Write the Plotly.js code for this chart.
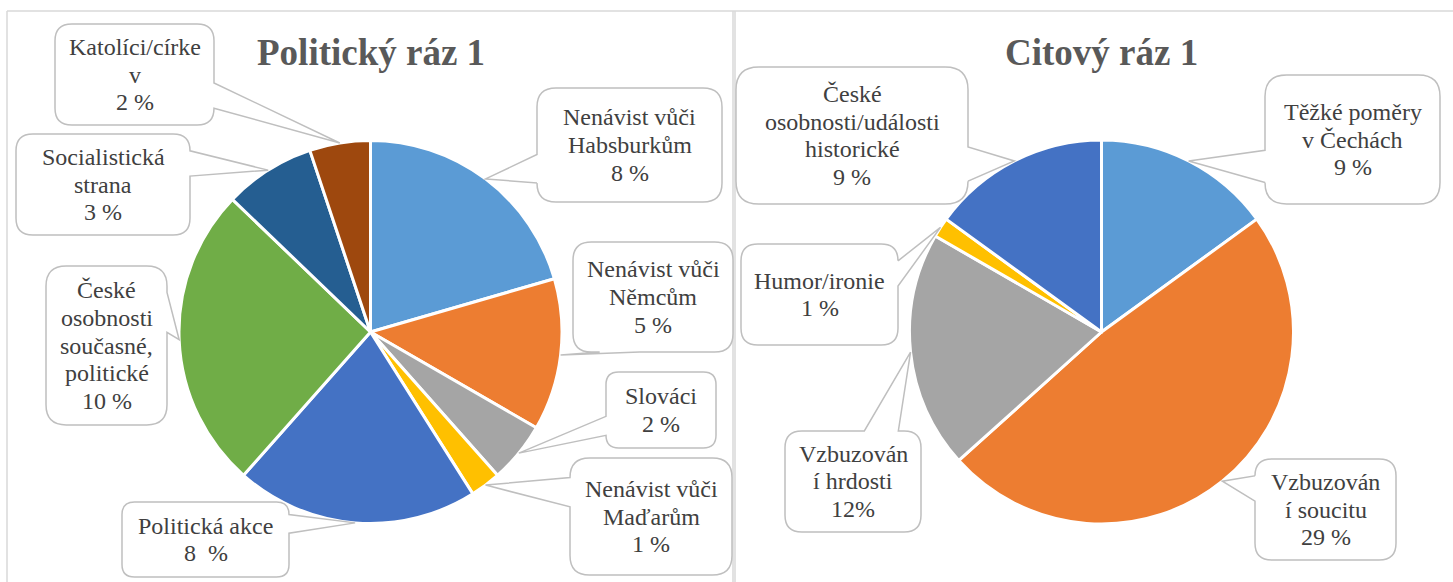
<!DOCTYPE html>
<html>
<head>
<meta charset="utf-8">
<script src="https://cdn.plot.ly/plotly-3.0.1.min.js"></script>
<style>html,body{margin:0;padding:0;background:#fff;}#chart{width:1453px;height:582px;}</style>
</head>
<body>
<div id="chart"></div>
<script>
// ---------------- DATA ----------------
const leftTitle = "Politický ráz 1";
const leftCategories = ["Nenávist vůči<br>Habsburkům", "Nenávist vůči<br>Němcům", "Slováci", "Nenávist vůči<br>Maďarům", "Politická akce", "České<br>osobnosti<br>současné,<br>politické", "Socialistická<br>strana", "Katolíci/círke<br>v"];
const leftValues = [8, 5, 2, 1, 8, 10, 3, 2];
const leftValueLabels = ["8 %", "5 %", "2 %", "1 %", "8  %", "10 %", "3 %", "2 %"];

const rightTitle = "Citový ráz 1";
const rightCategories = ["Těžké poměry<br>v Čechách", "Vzbuzován<br>í soucitu", "Vzbuzován<br>í hrdosti", "Humor/ironie", "České<br>osobnosti/události<br>historické"];
const rightValues = [9, 29, 12, 1, 9];
const rightValueLabels = ["9 %", "29 %", "12%", "1 %", "9 %"];

// ---------------- LAYOUT / STYLE ----------------
const W = 1453, H = 582;
const leftColors = ["#5B9BD5", "#ED7D31", "#A5A5A5", "#FFC000", "#4472C4", "#70AD47", "#255E91", "#9E480E"];
const rightColors = ["#5B9BD5", "#ED7D31", "#A5A5A5", "#FFC000", "#4472C4"];
const FONT = "Liberation Serif";
const LINE_H = 27.6;

const panels = [
  {title: leftTitle, cats: leftCategories, vals: leftValues, vlabels: leftValueLabels, colors: leftColors,
   cx: 370.5, cy: 332, r: 191.5, titleY: 52,
   boxes: [[537,88,722,202],[573,242,733,352],[606,372,716,448],[570,458,732,575],[122,502,289,577],[46,266,167,425],[16,134,190,235],[55,24,214,125]],
   sides: [null,'bottom',null,null,null,null,null,null]},
  {title: rightTitle, cats: rightCategories, vals: rightValues, vlabels: rightValueLabels, colors: rightColors,
   cx: 1101.5, cy: 332, r: 192, titleY: 52,
   boxes: [[1265,75,1440,204],[1255,459,1396,560],[785,431,921,532],[741,244,898,345],[736,67,968,204]],
   sides: [null,null,null,null,null]}
];

const px = x => x / W;
const py = y => 1 - y / H;

function calloutPath(b, tip, forced) {
  const [x0, y0, x1, y1] = b;
  const w = x1 - x0, h = y1 - y0;
  const bx = (x0 + x1) / 2, by = (y0 + y1) / 2;
  const dx = tip[0] - bx, dy = tip[1] - by;
  const dq = dx * h / w;
  let side;
  if (forced) side = forced;
  else if (Math.abs(dy) > Math.abs(dq)) side = dy < 0 ? 'top' : 'bottom';
  else side = dx < 0 ? 'left' : 'right';
  const rr = Math.min(w, h) * 0.16667;
  const bxa = x0 + w * (dx > 0 ? 7 : 2) / 12, bxb = x0 + w * (dx > 0 ? 10 : 5) / 12;
  const bya = y0 + h * (dy > 0 ? 7 : 2) / 12, byb = y0 + h * (dy > 0 ? 10 : 5) / 12;
  const P = (x, y) => px(x).toFixed(6) + ',' + py(y).toFixed(6);
  let d = 'M' + P(x0 + rr, y0);
  if (side === 'top') d += ' L' + P(bxa, y0) + ' L' + P(tip[0], tip[1]) + ' L' + P(bxb, y0);
  d += ' L' + P(x1 - rr, y0) + ' Q' + P(x1, y0) + ' ' + P(x1, y0 + rr);
  if (side === 'right') d += ' L' + P(x1, bya) + ' L' + P(tip[0], tip[1]) + ' L' + P(x1, byb);
  d += ' L' + P(x1, y1 - rr) + ' Q' + P(x1, y1) + ' ' + P(x1 - rr, y1);
  if (side === 'bottom') d += ' L' + P(bxb, y1) + ' L' + P(tip[0], tip[1]) + ' L' + P(bxa, y1);
  d += ' L' + P(x0 + rr, y1) + ' Q' + P(x0, y1) + ' ' + P(x0, y1 - rr);
  if (side === 'left') d += ' L' + P(x0, byb) + ' L' + P(tip[0], tip[1]) + ' L' + P(x0, bya);
  d += ' L' + P(x0, y0 + rr) + ' Q' + P(x0, y0) + ' ' + P(x0 + rr, y0) + ' Z';
  return d;
}

const traces = [], shapes = [], annotations = [];

// frame lines
const frameColor = "#d9d9d9";
[[7, 11, 1453, 11], [7, 11, 7, 582], [733, 11, 733, 582], [735, 11, 735, 582]].forEach(l => {
  shapes.push({type: 'line', xref: 'paper', yref: 'paper', x0: px(l[0]), y0: py(l[1]), x1: px(l[2]), y1: py(l[3]),
    line: {color: frameColor, width: 1.5}, layer: 'below'});
});

panels.forEach(p => {
  traces.push({
    type: 'pie', labels: p.cats, values: p.vals, sort: false, direction: 'clockwise', rotation: 0,
    textinfo: 'none', hoverinfo: 'label+value',
    marker: {colors: p.colors, line: {color: '#ffffff', width: 3}},
    domain: {x: [px(p.cx - p.r), px(p.cx + p.r)], y: [py(p.cy + p.r), py(p.cy - p.r)]},
    showlegend: false
  });
  annotations.push({xref: 'paper', yref: 'paper', x: px(p.cx), y: py(p.titleY), text: p.title,
    showarrow: false, xanchor: 'center', yanchor: 'middle', font: {family: FONT, size: 37, color: '#595959', weight: 'bold'}});
  const total = p.vals.reduce((a, b) => a + b, 0);
  let cum = 0;
  p.vals.forEach((v, i) => {
    const a = (cum + v / 2) / total * 2 * Math.PI;
    cum += v;
    const tip = [p.cx + p.r * Math.sin(a), p.cy - p.r * Math.cos(a)];
    const b = p.boxes[i];
    shapes.push({type: 'path', xref: 'paper', yref: 'paper', path: calloutPath(b, tip, p.sides[i]),
      fillcolor: '#ffffff', line: {color: '#bfbfbf', width: 1.5}, layer: 'above'});
    const lines = p.cats[i].split('<br>').concat([p.vlabels[i].replace(/  /g, '\u00a0\u00a0')]);
    const bcx = (b[0] + b[2]) / 2, bcy = (b[1] + b[3]) / 2;
    lines.forEach((t, j) => {
      const ly = bcy + (j - (lines.length - 1) / 2) * LINE_H;
      annotations.push({xref: 'paper', yref: 'paper', x: px(bcx), y: py(ly), text: t, showarrow: false,
        xanchor: 'center', yanchor: 'middle', font: {family: FONT, size: 24, color: '#404040'}});
    });
  });
});

Plotly.newPlot('chart', traces, {
  width: W, height: H, margin: {l: 0, r: 0, t: 0, b: 0, pad: 0},
  paper_bgcolor: '#ffffff', plot_bgcolor: '#ffffff', showlegend: false,
  font: {family: FONT},
  shapes: shapes, annotations: annotations
}, {displayModeBar: false, staticPlot: true});
</script>
</body>
</html>
